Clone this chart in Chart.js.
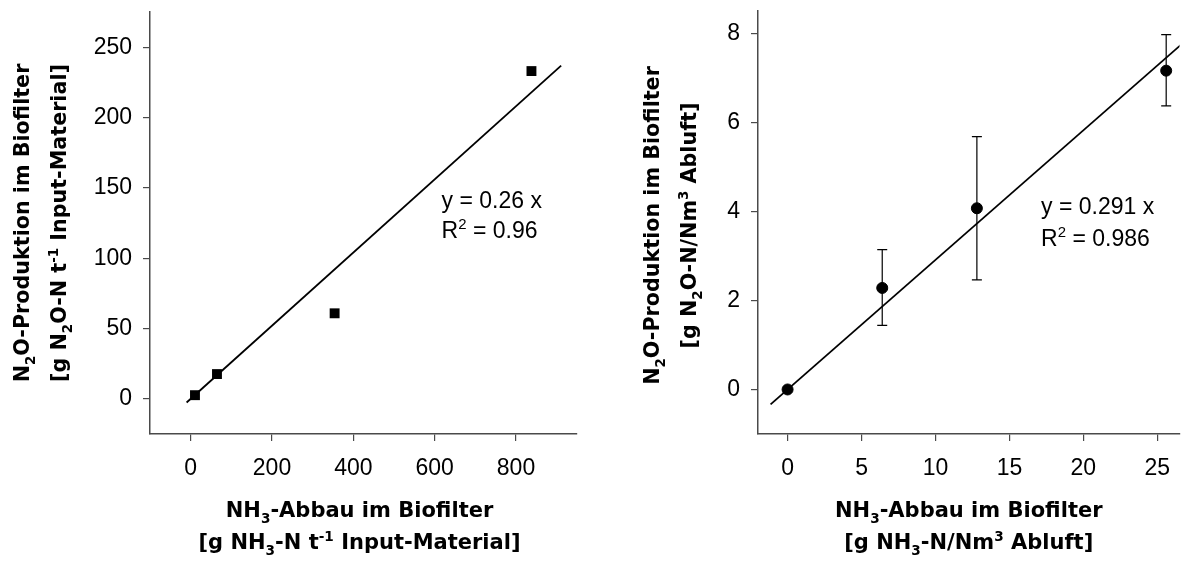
<!DOCTYPE html>
<html lang="de">
<head>
<meta charset="utf-8">
<title>N2O-Produktion im Biofilter</title>
<script src="https://cdn.jsdelivr.net/npm/chart.js@4"></script>
<style>
  html, body { margin: 0; padding: 0; background: #fff; overflow: hidden; }
  .panel { position: absolute; top: 0; height: 561px; }
  #left { left: 0; width: 590px; }
  /* a few px wider than the window, the axis runs to the edge */
  #right { left: 590px; width: 596px; }
</style>
</head>
<body>
<div class="panel" id="left"><canvas id="chartLeft"></canvas></div>
<div class="panel" id="right"><canvas id="chartRight"></canvas></div>
<script>
// Bezug: t Input-Material
const inputAbbau = [10.6, 64.7, 354, 838];
const inputProduktion = [2.6, 17.6, 60.8, 233];
const inputXTicks = [0, 200, 400, 600, 800];
const inputYTicks = [0, 50, 100, 150, 200, 250];
const inputSlope = 0.26;
const inputR2 = '0.96';
const inputFitX = [-10, 911];

// Bezug: Nm3 Abluft
const abluftAbbau = [0, 6.4, 12.8, 25.6];
const abluftProduktion = [0, 2.28, 4.07, 7.16];
const abluftFehlerUnten = [null, 1.44, 2.46, 6.37];
const abluftFehlerOben = [null, 3.14, 5.68, 7.97];
const abluftXTicks = [0, 5, 10, 15, 20, 25];
const abluftYTicks = [0, 2, 4, 6, 8];
const abluftSlope = 0.291;
const abluftR2 = '0.986';
const abluftFitX = [-1.15, 26.8];

const axisColor = '#4a4a4a';
const tickFont = { family: '"Liberation Sans", Arial, sans-serif', size: 23 };
const titleFamily = '"DejaVu Sans", Verdana, sans-serif';
const labelFamily = '"Liberation Sans", Arial, sans-serif';

// text pieces: [text] normal, [text, 'sub'], [text, 'sup']
function drawRich(ctx, parts, x, y, size, family, weight, align) {
  const small = size * 0.65;
  const fontFor = (p) => `${weight} ${p[1] ? small : size}px ${family}`;
  let total = 0;
  parts.forEach((p) => {
    ctx.font = fontFor(p);
    total += ctx.measureText(p[0]).width;
  });
  let cx = align === 'left' ? x : x - total / 2;
  ctx.textAlign = 'left';
  ctx.textBaseline = 'alphabetic';
  parts.forEach((p) => {
    ctx.font = fontFor(p);
    let dy = 0;
    if (p[1] === 'sub') dy = size * 0.3;
    if (p[1] === 'sup') dy = -size * 0.38;
    ctx.fillText(p[0], cx, y + dy);
    cx += ctx.measureText(p[0]).width;
  });
}

const richText = {
  id: 'richText',
  afterDraw(chart, args, opts) {
    const ctx = chart.ctx;
    const area = chart.chartArea;
    ctx.save();
    ctx.fillStyle = '#000';
    // x axis title below the axis
    const xMid = (area.left + area.right) / 2 + opts.xShift;
    opts.xTitle.forEach((line, i) => {
      drawRich(ctx, line, xMid, opts.xBaselines[i], 21, titleFamily, 'bold', 'center');
    });
    // y axis title, rotated
    const yMid = (area.top + area.bottom) / 2 + opts.yShift;
    opts.yTitle.forEach((line, i) => {
      ctx.save();
      ctx.translate(opts.yBaselines[i], yMid);
      ctx.rotate(-Math.PI / 2);
      drawRich(ctx, line, 0, 0, 20.7, titleFamily, 'bold', 'center');
      ctx.restore();
    });
    // regression equation
    const sx = chart.scales.x.getPixelForValue(opts.eqAt[0]);
    const sy = chart.scales.y.getPixelForValue(opts.eqAt[1]);
    drawRich(ctx, [[`y = ${opts.slope} x`]], sx, sy, 23, labelFamily, 'normal', 'left');
    drawRich(ctx, [['R'], ['2', 'sup'], [` = ${opts.r2}`]], sx, sy + opts.eqGap, 23, labelFamily, 'normal', 'left');
    ctx.restore();
  }
};

const errorBars = {
  id: 'errorBars',
  beforeDatasetsDraw(chart, args, opts) {
    if (!opts.low) return;
    const ctx = chart.ctx;
    const xs = chart.scales.x;
    const ys = chart.scales.y;
    ctx.save();
    ctx.strokeStyle = '#000';
    ctx.lineWidth = 1.2;
    opts.low.forEach((lo, i) => {
      if (lo === null) return;
      const px = xs.getPixelForValue(opts.x[i]);
      const top = ys.getPixelForValue(opts.high[i]);
      const bot = ys.getPixelForValue(lo);
      ctx.beginPath();
      ctx.moveTo(px, top);
      ctx.lineTo(px, bot);
      ctx.moveTo(px - 5, top);
      ctx.lineTo(px + 5, top);
      ctx.moveTo(px - 5, bot);
      ctx.lineTo(px + 5, bot);
      ctx.stroke();
    });
    ctx.restore();
  }
};

function makeAxis(min, max, tickValues, size, isX) {
  return {
    type: 'linear',
    min: min,
    max: max,
    afterBuildTicks: (scale) => { scale.ticks = tickValues.map((v) => ({ value: v })); },
    afterFit: (scale) => {
      // fixed box sizes, no extra room for edge labels
      if (isX) scale.height = size; else scale.width = size;
      scale.paddingLeft = 0;
      scale.paddingRight = 0;
      scale.paddingTop = 0;
      scale.paddingBottom = 0;
    },
    grid: { drawOnChartArea: false, drawTicks: true, tickLength: 7, color: axisColor, lineWidth: 1.2 },
    border: { display: true, color: axisColor, width: 1.5 },
    ticks: { color: '#000', font: tickFont, padding: isX ? 14 : 11, maxRotation: 0, autoSkip: false }
  };
}

function makeChart(canvas, cfg) {
  const points = cfg.xs.map((x, i) => ({ x: x, y: cfg.ys[i] }));
  const fit = cfg.fitX.map((x) => ({ x: x, y: cfg.slope * x }));
  return new Chart(canvas, {
    type: 'scatter',
    data: {
      datasets: [
        {
          data: points,
          pointStyle: cfg.pointStyle,
          pointRadius: cfg.pointRadius,
          backgroundColor: '#000',
          borderColor: '#000',
          borderWidth: cfg.pointStyle === 'circle' ? 1 : 0,
          order: 1
        },
        {
          data: fit,
          showLine: true,
          pointRadius: 0,
          borderColor: '#000',
          borderWidth: 1.8,
          order: 2
        }
      ]
    },
    options: {
      responsive: true,
      maintainAspectRatio: false,
      animation: false,
      events: [],
      layout: { padding: cfg.padding },
      scales: {
        x: makeAxis(cfg.xMin, cfg.xMax, cfg.xTicks, 127, true),
        y: makeAxis(cfg.yMin, cfg.yMax, cfg.yTicks, cfg.yWidth, false)
      },
      plugins: {
        legend: { display: false },
        tooltip: { enabled: false },
        errorBars: cfg.errors || {},
        richText: cfg.text
      }
    },
    plugins: [errorBars, richText]
  });
}

function mainEvent() {
  makeChart(document.querySelector('#chartLeft'), {
    xs: inputAbbau,
    ys: inputProduktion,
    slope: inputSlope,
    fitX: inputFitX,
    xMin: -100, xMax: 950, xTicks: inputXTicks,
    yMin: -25, yMax: 275, yTicks: inputYTicks,
    yWidth: 150,
    padding: { top: 12, right: 13, left: 0, bottom: 0 },
    pointStyle: 'rect',
    pointRadius: 7,
    text: {
      xTitle: [
        [['NH'], ['3', 'sub'], ['-Abbau im Biofilter']],
        [['[g NH'], ['3', 'sub'], ['-N t'], ['-1', 'sup'], [' Input-Material]']]
      ],
      yTitle: [
        [['N'], ['2', 'sub'], ['O-Produktion im Biofilter']],
        [['[g N'], ['2', 'sub'], ['O-N t'], ['-1', 'sup'], [' Input-Material]']]
      ],
      xShift: -4, xBaselines: [517, 549],
      yShift: 0, yBaselines: [29, 66],
      slope: inputSlope, r2: inputR2,
      eqAt: [617, 135.6], eqGap: 30
    }
  });

  // right panel: plot area ends at the window edge (x = 26.5)
  makeChart(document.querySelector('#chartRight'), {
    xs: abluftAbbau,
    ys: abluftProduktion,
    slope: abluftSlope,
    fitX: abluftFitX,
    xMin: -2, xMax: 26.5, xTicks: abluftXTicks,
    yMin: -1, yMax: 8.5, yTicks: abluftYTicks,
    yWidth: 168,
    padding: { top: 11, right: 0, left: 0, bottom: 0 },
    pointStyle: 'circle',
    pointRadius: 5.5,
    errors: { x: abluftAbbau, low: abluftFehlerUnten, high: abluftFehlerOben },
    text: {
      xTitle: [
        [['NH'], ['3', 'sub'], ['-Abbau im Biofilter']],
        [['[g NH'], ['3', 'sub'], ['-N/Nm'], ['3', 'sup'], [' Abluft]']]
      ],
      yTitle: [
        [['N'], ['2', 'sub'], ['O-Produktion im Biofilter']],
        [['[g N'], ['2', 'sub'], ['O-N/Nm'], ['3', 'sup'], [' Abluft]']]
      ],
      xShift: 0, xBaselines: [517, 549],
      yShift: 3, yBaselines: [69, 106],
      slope: abluftSlope, r2: abluftR2,
      eqAt: [17.14, 3.93], eqGap: 31.5
    }
  });
}

document.addEventListener('DOMContentLoaded', () => mainEvent());
</script>
</body>
</html>
